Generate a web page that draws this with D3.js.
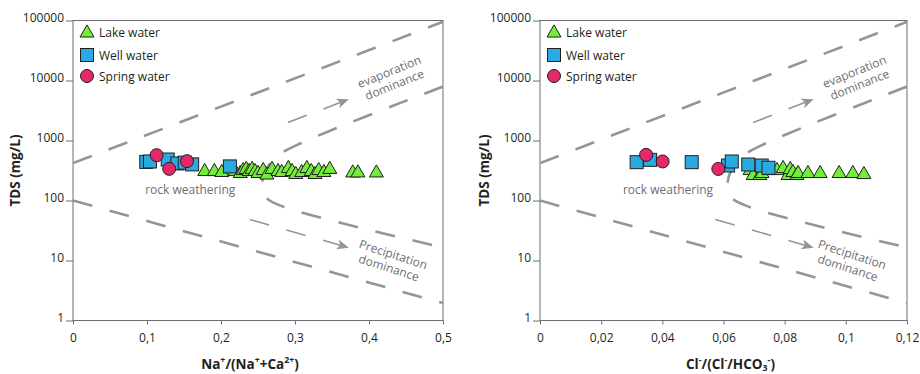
<!DOCTYPE html>
<html>
<head>
<meta charset="UTF-8">
<title>Gibbs diagrams</title>
<script src="https://d3js.org/d3.v7.min.js"></script>
<style>
  body {margin:0; background:#fff;}
  svg text {font-family:"Open Sans", sans-serif; fill:#231f20;}
  .frame {fill:none; stroke:#6d6e71; stroke-width:1;}
  .axis path {display:none;}
  .axis line {stroke:#6d6e71;}
  .axis text {font-size:12px; fill:#231f20;}
  .guide {fill:none; stroke:#939598; stroke-width:2.6; stroke-dasharray:20,18;}
  .arrow {fill:none; stroke:#939598; stroke-width:1.6; stroke-dasharray:20,18;}
  .note {font-size:12px; fill:#6d6e71;}
  .lbl {font-size:13.5px; font-weight:bold;}
  .leg {font-size:12px;}
</style>
</head>
<body>
<svg id="chart" width="920" height="374"></svg>
<script>

// TDS axis (log)
var tdsTicks = [1, 10, 100, 1000, 10000, 100000];
var naTicks = [0, 0.1, 0.2, 0.3, 0.4, 0.5];
var clTicks = [0, 0.02, 0.04, 0.06, 0.08, 0.1, 0.12];

// Na/(Na+Ca) vs TDS
var naLake = [[0.178,304],[0.191,304],[0.201,293],[0.219,304],[0.226,282],[0.230,316],[0.234,330],
              [0.238,304],[0.242,330],[0.246,304],[0.250,282],[0.257,316],[0.262,266],[0.269,330],
              [0.277,304],[0.282,293],[0.291,342],[0.296,304],[0.301,272],[0.309,293],[0.316,342],
              [0.322,304],[0.327,272],[0.332,316],[0.339,293],[0.347,330],[0.378,288],[0.385,288],[0.410,288]];
var naWell = [[0.099,440],[0.104,447],[0.128,482],[0.141,414],[0.151,427],[0.161,400],[0.212,370]];
var naSpring = [[0.113,569],[0.130,337],[0.154,452]];

// Cl/(Cl+HCO3) vs TDS
var clLake = [[0.0687,316],[0.0697,261],[0.0719,261],[0.0726,282],[0.0752,316],[0.0775,316],[0.0795,341],
              [0.0811,261],[0.0818,329],[0.0827,293],[0.0840,261],[0.0844,282],[0.0876,282],[0.0916,282],
              [0.0978,282],[0.1023,282],[0.1059,271]];
var clWell = [[0.0316,435],[0.0360,476],[0.0496,435],[0.0615,383],[0.0627,447],[0.0681,398],[0.0725,383],[0.0747,351]];
var clSpring = [[0.0347,576],[0.0401,447],[0.0583,336]];

// Gibbs boundary guides: [fraction of x range, TDS]
var guideEvap = [[0,420],[1,95000]];
var guideRain = [[0,100],[1,1.95]];
var guideRock = [[1,7940],[0.614,891],[0.551,541],[0.522,328],[0.511,185],[0.522,112],[0.568,79],[1,16.5]];
var arrowEvap = [[0.581,1995],[0.743,4820]];
var arrowRain = [[0.478,48.2],[0.743,16.5]];

var height = 300;
var svg = d3.select("#chart");

svg.append("defs").append("marker")
    .attr("id", "head")
    .attr("markerUnits", "userSpaceOnUse")
    .attr("markerWidth", 14).attr("markerHeight", 12)
    .attr("refX", 11).attr("refY", 5)
    .attr("orient", "auto")
  .append("path")
    .attr("d", "M0,0 L12,5 L0,10 L3,5 Z")
    .attr("fill", "#939598");

var colors = {lake: "#72ee3a", well: "#29abe2", spring: "#e6286b"};

function fmt(d) { return d === 0 ? "0" : String(d).replace(".", ","); }

// label with super/subscripts: [text, level]
function richText(sel, parts, size) {
  var cur = 0;
  parts.forEach(function(p) {
    var shift = p[1] > 0 ? size * 0.4 : (p[1] < 0 ? -size * 0.22 : 0);
    sel.append("tspan")
      .attr("dy", -(shift - cur))
      .style("font-size", p[1] ? (size * 0.65) + "px" : size + "px")
      .text(p[0]);
    cur = shift;
  });
}

function panel(o) {
  var g = svg.append("g").attr("transform", "translate(" + o.left + ",20.5)");
  var x = d3.scaleLinear().domain([0, o.xMax]).range([0, o.width]);
  var f = d3.scaleLinear().domain([0, 1]).range([0, o.width]);
  var y = d3.scaleLog().domain([1, 100000]).range([height, 0]);

  g.append("clipPath").attr("id", "clip" + o.id)
    .append("rect").attr("width", o.width).attr("height", height);

  g.append("g").attr("class", "axis")
    .call(d3.axisLeft(y).tickValues(tdsTicks).tickFormat(d3.format("d")).tickSize(7).tickPadding(2))
    .selectAll("text").attr("dy", "0.05em");

  g.append("g").attr("class", "axis")
    .attr("transform", "translate(0," + height + ")")
    .call(d3.axisBottom(x).tickValues(o.ticks).tickFormat(fmt).tickSize(4).tickPadding(9));

  g.append("rect").attr("class", "frame").attr("width", o.width).attr("height", height);

  // guides
  var gl = d3.line().x(function(d) { return f(d[0]); }).y(function(d) { return y(d[1]); });
  var guides = g.append("g").attr("clip-path", "url(#clip" + o.id + ")");
  guides.append("path").attr("class", "guide").attr("d", gl(guideEvap));
  guides.append("path").attr("class", "guide").attr("d", gl(guideRain));
  guides.append("path").attr("class", "guide").attr("d", gl.curve(d3.curveCatmullRom)(guideRock));
  gl.curve(d3.curveLinear);
  guides.append("path").attr("class", "arrow").attr("marker-end", "url(#head)").attr("d", gl(arrowEvap));
  guides.append("path").attr("class", "arrow").attr("marker-end", "url(#head)").attr("d", gl(arrowRain));

  // notes
  g.append("text").attr("class", "note")
    .attr("x", f(o.rock[0])).attr("y", y(o.rock[1])).text("rock weathering");
  var ev = g.append("text").attr("class", "note").attr("text-anchor", "middle")
    .attr("transform", "translate(" + f(o.evap[0]) + "," + y(o.evap[1]) + ") rotate(-22)");
  ev.append("tspan").attr("x", 0).attr("y", 0).text("evaporation");
  ev.append("tspan").attr("x", 0).attr("y", 14).text("dominance");
  var pr = g.append("text").attr("class", "note").attr("text-anchor", "middle")
    .attr("transform", "translate(" + f(o.prec[0]) + "," + y(o.prec[1]) + ") rotate(18)");
  pr.append("tspan").attr("x", 0).attr("y", 0).text("Precipitation");
  pr.append("tspan").attr("x", 0).attr("y", 14).text("dominance");

  // points
  var tri = d3.symbol().type(d3.symbolTriangle).size(85);
  g.append("g").selectAll("path").data(o.lake).enter().append("path")
    .attr("d", tri)
    .attr("transform", function(d) { return "translate(" + x(d[0]) + "," + y(d[1]) + ")"; })
    .attr("fill", colors.lake).attr("stroke", "#231f20").attr("stroke-width", 1);
  g.append("g").selectAll("rect").data(o.well).enter().append("rect")
    .attr("x", function(d) { return x(d[0]) - 6.5; })
    .attr("y", function(d) { return y(d[1]) - 6.5; })
    .attr("width", 13).attr("height", 13)
    .attr("fill", colors.well).attr("stroke", "#231f20").attr("stroke-width", 1);
  g.append("g").selectAll("circle").data(o.spring).enter().append("circle")
    .attr("cx", function(d) { return x(d[0]); })
    .attr("cy", function(d) { return y(d[1]); })
    .attr("r", 6.5)
    .attr("fill", colors.spring).attr("stroke", "#231f20").attr("stroke-width", 1);

  // legend
  var lg = g.append("g").attr("transform", "translate(14,0)");
  lg.append("path").attr("d", tri).attr("transform", "translate(0,12.5)")
    .attr("fill", colors.lake).attr("stroke", "#231f20");
  lg.append("rect").attr("x", -6.5).attr("y", 28).attr("width", 13).attr("height", 13)
    .attr("fill", colors.well).attr("stroke", "#231f20");
  lg.append("circle").attr("cy", 55.5).attr("r", 6.5)
    .attr("fill", colors.spring).attr("stroke", "#231f20");
  lg.append("text").attr("class", "leg").attr("x", 12).attr("y", 16.5).text("Lake water");
  lg.append("text").attr("class", "leg").attr("x", 12).attr("y", 39).text("Well water");
  lg.append("text").attr("class", "leg").attr("x", 12).attr("y", 60).text("Spring water");

  // axis titles
  g.append("text").attr("class", "lbl").attr("text-anchor", "middle")
    .attr("transform", "translate(" + o.yTitleX + ",150) rotate(-90)")
    .text("TDS (mg/L)");
  var xt = g.append("text").attr("class", "lbl").attr("text-anchor", "middle")
    .attr("x", o.width / 2 + o.xTitleDx).attr("y", 348);
  richText(xt, o.xTitle, 13.5);
}

panel({id: "na", left: 73, width: 370, xMax: 0.5, ticks: naTicks,
       lake: naLake, well: naWell, spring: naSpring,
       rock: [0.195, 126], evap: [0.859, 12050], prec: [0.862, 10.8],
       yTitleX: -53, xTitleDx: -8,
       xTitle: [["Na", 0], ["+", 1], ["/(Na", 0], ["+", 1], ["+Ca", 0], ["2+", 1], [")", 0]]});

panel({id: "cl", left: 540, width: 367, xMax: 0.12, ticks: clTicks,
       lake: clLake, well: clWell, spring: clSpring,
       rock: [0.226, 126], evap: [0.861, 12050], prec: [0.847, 10.8],
       yTitleX: -51, xTitleDx: 7,
       xTitle: [["Cl", 0], ["-", 1], ["/(Cl", 0], ["-", 1], ["/HCO", 0], ["3", -1], ["-", 1], [")", 0]]});

</script>
</body>
</html>
